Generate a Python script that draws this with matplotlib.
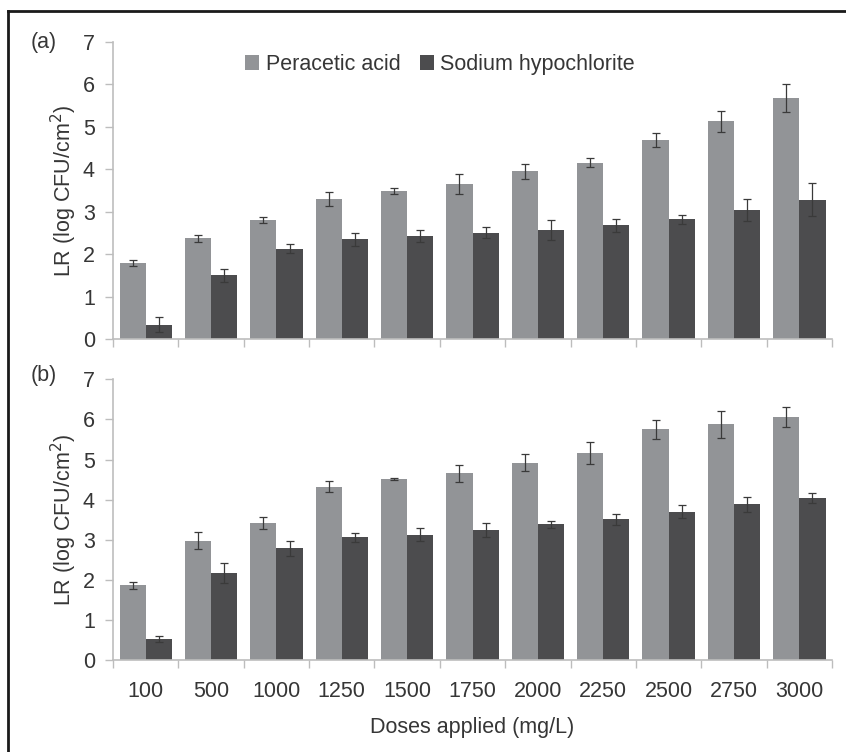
import numpy as np
import matplotlib.pyplot as plt
from matplotlib.lines import Line2D

plt.rcParams['font.family'] = ['Liberation Sans', 'DejaVu Sans']

# data -------------------------------------------------------------
doses = ["100", "500", "1000", "1250", "1500", "1750", "2000", "2250", "2500", "2750", "3000"]

paa_a = [1.80, 2.37, 2.80, 3.30, 3.48, 3.66, 3.95, 4.16, 4.69, 5.13, 5.68]
paa_a_err = [0.07, 0.08, 0.07, 0.17, 0.07, 0.24, 0.18, 0.10, 0.16, 0.24, 0.34]
naocl_a = [0.34, 1.50, 2.13, 2.35, 2.43, 2.51, 2.57, 2.68, 2.82, 3.04, 3.28]
naocl_a_err = [0.18, 0.15, 0.11, 0.16, 0.14, 0.13, 0.24, 0.16, 0.10, 0.25, 0.39]

paa_b = [1.86, 2.98, 3.41, 4.32, 4.52, 4.66, 4.92, 5.17, 5.75, 5.88, 6.05]
paa_b_err = [0.08, 0.22, 0.15, 0.14, 0.03, 0.21, 0.21, 0.27, 0.23, 0.34, 0.25]
naocl_b = [0.52, 2.17, 2.79, 3.06, 3.12, 3.24, 3.38, 3.51, 3.70, 3.88, 4.04]
naocl_b_err = [0.07, 0.25, 0.19, 0.11, 0.16, 0.17, 0.08, 0.14, 0.17, 0.19, 0.12]

light = "#929497"
dark = "#4c4c4e"
spine_col = "#bdbdbd"
txt_col = "#363636"
fs = 15.5

fig = plt.figure(figsize=(8.46, 7.52), dpi=100)
ax_a = fig.add_axes([0.1336, 0.5492, 0.8499, 0.3949])
ax_b = fig.add_axes([0.1336, 0.1223, 0.8499, 0.3733])

x = np.arange(len(doses))
w = 0.4


def draw(ax, paa, paa_err, naocl, naocl_err, label, label_y):
    ax.bar(x - w / 2, paa, w, color=light, label="Peracetic acid", zorder=2)
    ax.bar(x + w / 2, naocl, w, color=dark, label="Sodium hypochlorite", zorder=2)
    ax.errorbar(x - w / 2, paa, yerr=paa_err, fmt="none", ecolor="#3a3a3a",
                elinewidth=0.9, capsize=3, capthick=0.9, zorder=3)
    ax.errorbar(x + w / 2, naocl, yerr=naocl_err, fmt="none", ecolor="#3a3a3a",
                elinewidth=0.9, capsize=3, capthick=0.9, zorder=3)
    ax.set_xlim(-0.5, len(doses) - 0.5)
    ax.set_ylim(0, 7)
    ax.set_yticks(range(8))
    ax.set_xticks(np.arange(len(doses) + 1) - 0.5)
    ax.set_xticklabels([])
    ax.set_xticks(x, minor=True)
    ax.tick_params(axis="x", which="major", length=6, color=spine_col, width=1)
    ax.tick_params(axis="x", which="minor", length=0)
    ax.tick_params(axis="y", length=6, color=spine_col, width=1,
                   labelsize=fs, labelcolor=txt_col, pad=7)
    for s in ["top", "right"]:
        ax.spines[s].set_visible(False)
    for s in ["left", "bottom"]:
        ax.spines[s].set_color(spine_col)
        ax.spines[s].set_linewidth(1.2)
    ax.set_ylabel("LR (log CFU/cm$^2$)", fontsize=fs, color=txt_col, labelpad=3)
    ax.text(-0.115, label_y, label, transform=ax.transAxes, fontsize=fs,
            color=txt_col, ha="left", va="center")


draw(ax_a, paa_a, paa_a_err, naocl_a, naocl_a_err, "(a)", 1.0)
draw(ax_b, paa_b, paa_b_err, naocl_b, naocl_b_err, "(b)", 1.012)

ax_b.set_xticklabels(doses, minor=True, fontsize=fs, color=txt_col)
ax_b.tick_params(axis="x", which="minor", pad=15)
ax_b.set_xlabel("Doses applied (mg/L)", fontsize=fs, color=txt_col, labelpad=11)

ax_a.legend(loc="upper left", bbox_to_anchor=(0.157, 1.025), ncol=2, frameon=False,
            fontsize=fs, handlelength=0.65, handleheight=0.65, handletextpad=0.3,
            columnspacing=0.9, labelcolor=txt_col)

# frame lines (top and left)
fig.add_artist(Line2D([8 / 846, 1.0], [1 - 11 / 752, 1 - 11 / 752],
                      transform=fig.transFigure, color="#1a1a1a", lw=2))
fig.add_artist(Line2D([8 / 846, 8 / 846], [0, 1 - 11 / 752],
                      transform=fig.transFigure, color="#1a1a1a", lw=2))

fig.savefig("out.png", dpi=100)
